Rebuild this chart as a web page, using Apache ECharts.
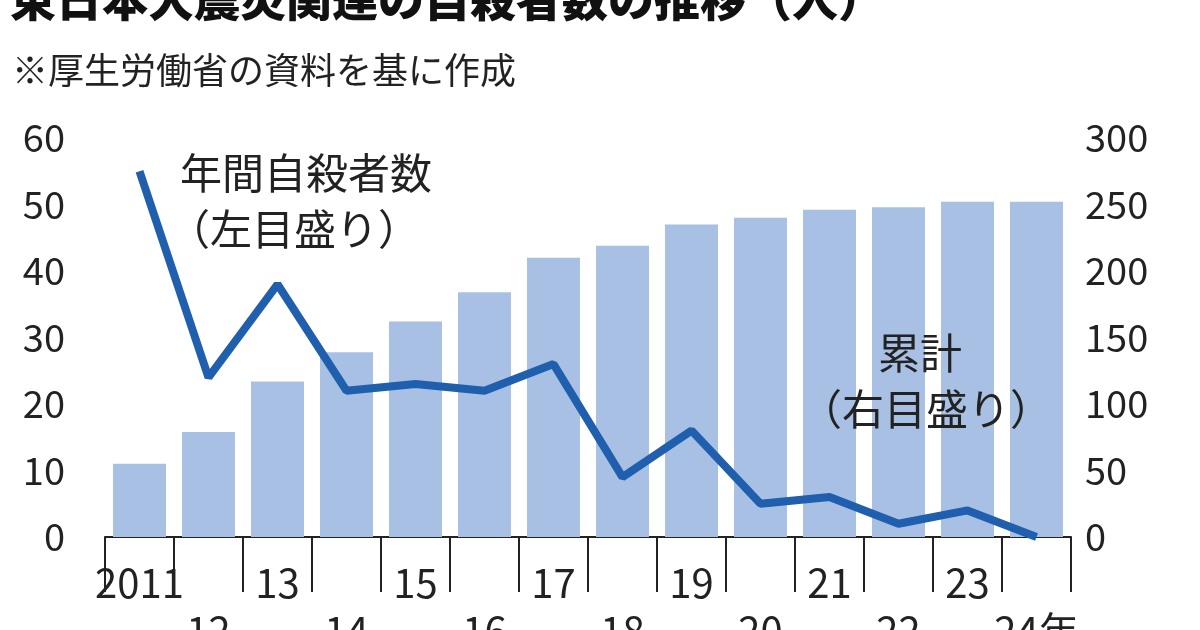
<!DOCTYPE html>
<html><head><meta charset="utf-8">
<script src="https://cdn.jsdelivr.net/npm/echarts@6/dist/echarts.min.js"></script>
<style>body{margin:0;background:#fff}#c{width:1200px;height:630px}</style>
</head><body><div id="c"></div>
<script>
var years = ['2011','12','13','14','15','16','17','18','19','20','21','22','23','24年'];
var annual = [55, 24, 38, 22, 23, 22, 26, 9, 16, 5, 6, 2, 4, 0];
var cumulative = [55, 79, 117, 139, 162, 184, 210, 219, 235, 240, 246, 248, 252, 252];
var leftTicks = [0, 60, 10];
var rightTicks = [0, 300, 50];
var font = '"Noto Sans CJK JP", sans-serif';

var chart = echarts.init(document.getElementById('c'));
chart.setOption({
    backgroundColor: '#fff',
    animation: false,
    textStyle: { fontFamily: font },
    grid: { left: 105, right: 129, top: 138, bottom: 93, containLabel: false, outerBoundsMode: 'none' },
    graphic: [
        { type: 'text', z: 100, left: 10, top: -24, style: { text: '東日本大震災関連の自殺者数の推移（人）', font: '900 46px ' + font, fill: '#111' } },
        { type: 'text', z: 100, left: 12, top: 52, style: { text: '※厚生労働省の資料を基に作成', font: '36px ' + font, fill: '#222' } },
        { type: 'text', z: 100, left: 180, top: 152, style: { text: '年間自殺者数', font: '42px ' + font, fill: '#222' } },
        { type: 'text', z: 100, left: 168, top: 208, style: { text: '（左目盛り）', font: '42px ' + font, fill: '#222' } },
        { type: 'text', z: 100, left: 878, top: 332, style: { text: '累計', font: '42px ' + font, fill: '#222' } },
        { type: 'text', z: 100, left: 800, top: 388, style: { text: '（右目盛り）', font: '42px ' + font, fill: '#222' } }
    ],
    xAxis: {
        type: 'category',
        data: years,
        axisLine: { lineStyle: { color: '#222', width: 2 } },
        axisTick: { show: true, interval: 0, length: 55, lineStyle: { color: '#222', width: 2 } },
        axisLabel: {
            interval: 0, color: '#222', fontSize: 40, margin: 22,
            formatter: function (v, i) { return i % 2 === 0 ? v : '\n' + v; },
            lineHeight: 48
        }
    },
    yAxis: [
        { type: 'value', min: leftTicks[0], max: leftTicks[1], interval: leftTicks[2],
          splitLine: { show: false }, axisLine: { show: false }, axisTick: { show: false },
          axisLabel: { color: '#222', fontSize: 38, margin: 40 } },
        { type: 'value', min: rightTicks[0], max: rightTicks[1], interval: rightTicks[2],
          splitLine: { show: false }, axisLine: { show: false }, axisTick: { show: false },
          axisLabel: { color: '#222', fontSize: 38, margin: 14 } }
    ],
    series: [
        { type: 'bar', yAxisIndex: 1, data: cumulative, barWidth: 53, itemStyle: { color: '#a8c0e4' }, z: 1 },
        { type: 'line', yAxisIndex: 0, data: annual, symbol: 'none', lineStyle: { color: '#1f5fae', width: 8 }, z: 3 }
    ]
});
</script></body></html>
